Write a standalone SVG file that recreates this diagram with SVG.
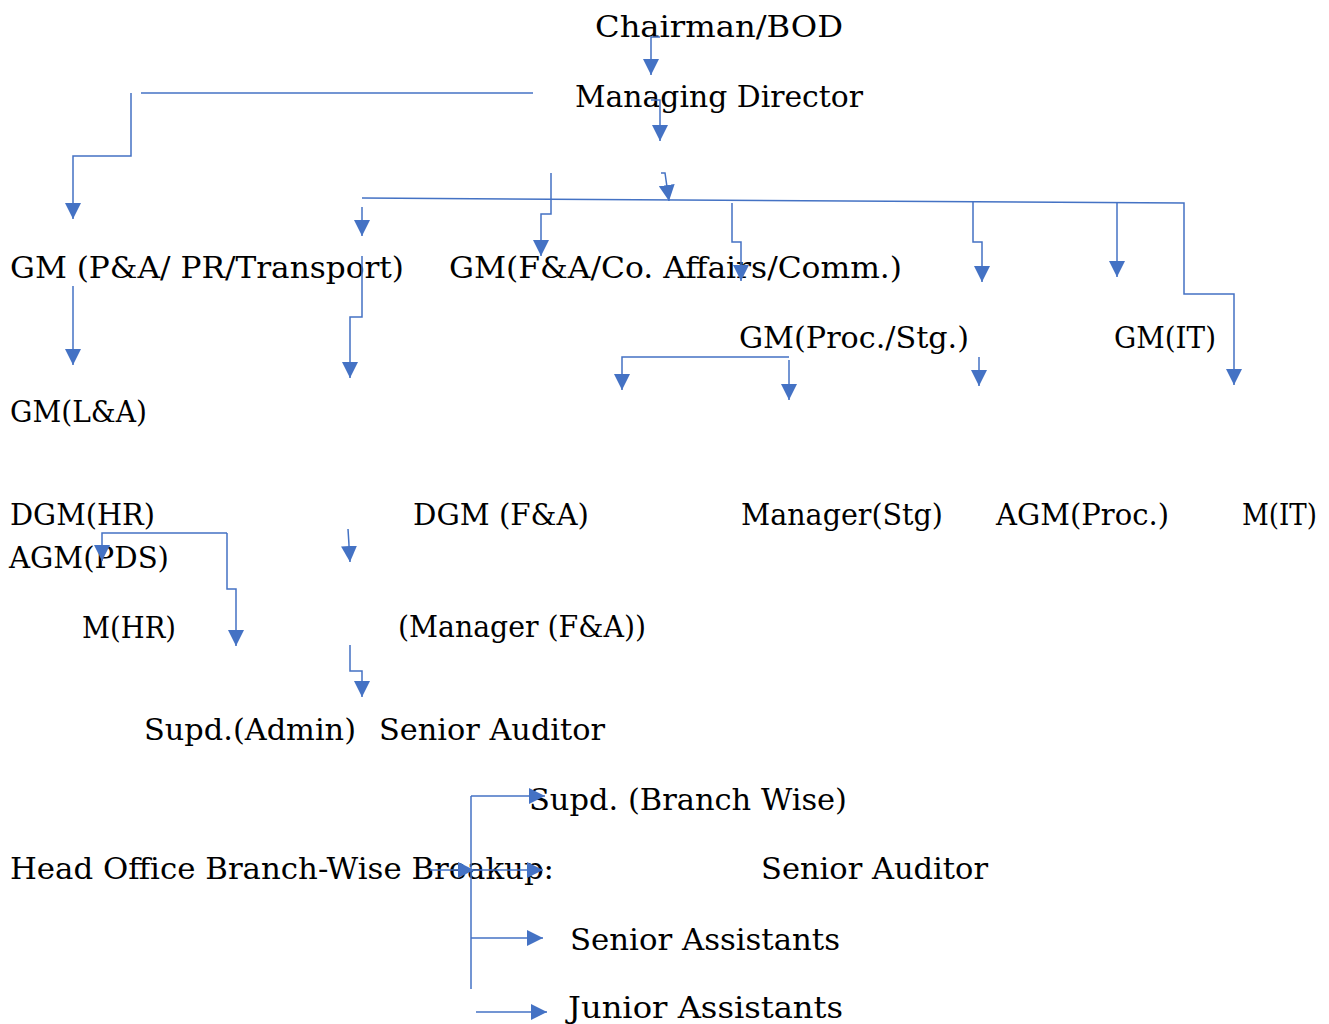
<svg xmlns="http://www.w3.org/2000/svg" width="1329" height="1024" viewBox="0 0 1329 1024">
<style>
text{font-family:"DejaVu Serif","Liberation Serif",serif;font-size:29.5px;fill:#000;}
.c{fill:none;stroke:#4472C4;stroke-width:1.5;}
</style>
<defs>
<marker id="ah" viewBox="0 0 10 10" refX="10" refY="5" markerUnits="userSpaceOnUse" markerWidth="16" markerHeight="16" orient="auto">
<path d="M0,0 L10,5 L0,10 z" fill="#4472C4"/>
</marker>
</defs>
<rect width="1329" height="1024" fill="#fff"/>
<g id="n-chairman"><text x="595" y="37" textLength="248" lengthAdjust="spacingAndGlyphs">Chairman/BOD</text></g>
<g id="n-md"><text x="575" y="107" textLength="288" lengthAdjust="spacingAndGlyphs">Managing Director</text></g>
<g id="n-gm-pa"><text x="10" y="278" textLength="394" lengthAdjust="spacingAndGlyphs">GM (P&amp;A/ PR/Transport)</text></g>
<g id="n-gm-fa"><text x="449" y="278" textLength="453" lengthAdjust="spacingAndGlyphs">GM(F&amp;A/Co. Affairs/Comm.)</text></g>
<g id="n-gm-proc"><text x="739" y="348" textLength="230" lengthAdjust="spacingAndGlyphs">GM(Proc./Stg.)</text></g>
<g id="n-gm-it"><text x="1114" y="348" textLength="102" lengthAdjust="spacingAndGlyphs">GM(IT)</text></g>
<g id="n-gm-la"><text x="10" y="422" textLength="137" lengthAdjust="spacingAndGlyphs">GM(L&amp;A)</text></g>
<g id="n-dgm-hr"><text x="10" y="525" textLength="145" lengthAdjust="spacingAndGlyphs">DGM(HR)</text></g>
<g id="n-agm-pds"><text x="9" y="568" textLength="160" lengthAdjust="spacingAndGlyphs">AGM(PDS)</text></g>
<g id="n-dgm-fa"><text x="413" y="525" textLength="176" lengthAdjust="spacingAndGlyphs">DGM (F&amp;A)</text></g>
<g id="n-mgr-stg"><text x="741" y="525" textLength="202" lengthAdjust="spacingAndGlyphs">Manager(Stg)</text></g>
<g id="n-agm-proc"><text x="996" y="525" textLength="173" lengthAdjust="spacingAndGlyphs">AGM(Proc.)</text></g>
<g id="n-m-it"><text x="1242" y="525" textLength="75" lengthAdjust="spacingAndGlyphs">M(IT)</text></g>
<g id="n-m-hr"><text x="82" y="638" textLength="94" lengthAdjust="spacingAndGlyphs">M(HR)</text></g>
<g id="n-mgr-fa"><text x="398" y="637" textLength="248" lengthAdjust="spacingAndGlyphs">(Manager (F&amp;A))</text></g>
<g id="n-supd-admin"><text x="144" y="740" textLength="212" lengthAdjust="spacingAndGlyphs">Supd.(Admin)</text></g>
<g id="n-sr-aud1"><text x="379" y="740" textLength="226" lengthAdjust="spacingAndGlyphs">Senior Auditor</text></g>
<g id="n-supd-branch"><text x="529" y="810" textLength="318" lengthAdjust="spacingAndGlyphs">Supd. (Branch Wise)</text></g>
<g id="n-head-office"><text x="10" y="879" textLength="544" lengthAdjust="spacingAndGlyphs">Head Office Branch-Wise Breakup:</text></g>
<g id="n-sr-aud2"><text x="761" y="879" textLength="227" lengthAdjust="spacingAndGlyphs">Senior Auditor</text></g>
<g id="n-sr-asst"><text x="570" y="950" textLength="270" lengthAdjust="spacingAndGlyphs">Senior Assistants</text></g>
<g id="n-jr-asst"><text x="568" y="1018" textLength="275" lengthAdjust="spacingAndGlyphs">Junior Assistants</text></g>
<g id="connectors">
<path class="c" d="M660,37 H651 V75" marker-end="url(#ah)"/>
<path class="c" d="M651,100 H660 V141" marker-end="url(#ah)"/>
<path class="c" d="M661,173 H665 L669,201" marker-end="url(#ah)"/>
<path class="c" d="M362,198 L1184,203 V294 H1234 V385" marker-end="url(#ah)"/>
<path class="c" d="M141,93 H533"/>
<path class="c" d="M131,93 V156 H73 V219" marker-end="url(#ah)"/>
<path class="c" d="M362,207 V236" marker-end="url(#ah)"/>
<path class="c" d="M551,173 V214 H541 V256" marker-end="url(#ah)"/>
<path class="c" d="M732,203 V242 H741 V281" marker-end="url(#ah)"/>
<path class="c" d="M973,202 V242 H982 V282" marker-end="url(#ah)"/>
<path class="c" d="M1117,202 V277" marker-end="url(#ah)"/>
<path class="c" d="M73,286 V365" marker-end="url(#ah)"/>
<path class="c" d="M362,256 V317 H350 V378" marker-end="url(#ah)"/>
<path class="c" d="M789,357 H622 V390" marker-end="url(#ah)"/>
<path class="c" d="M789,360 V400" marker-end="url(#ah)"/>
<path class="c" d="M979,357 V386" marker-end="url(#ah)"/>
<path class="c" d="M227,533 H102 V561" marker-end="url(#ah)"/>
<path class="c" d="M227,533 V589 H236 V646" marker-end="url(#ah)"/>
<path class="c" d="M348,529 L350,562" marker-end="url(#ah)"/>
<path class="c" d="M350,645 V671 H362 V697" marker-end="url(#ah)"/>
<path class="c" d="M471,796 V989"/>
<path class="c" d="M471,796 H545" marker-end="url(#ah)"/>
<path class="c" d="M430,870 H474" marker-end="url(#ah)"/>
<path class="c" d="M474,870 H543" marker-end="url(#ah)"/>
<path class="c" d="M471,938 H543" marker-end="url(#ah)"/>
<path class="c" d="M476,1012 H547" marker-end="url(#ah)"/>
</g>
</svg>
